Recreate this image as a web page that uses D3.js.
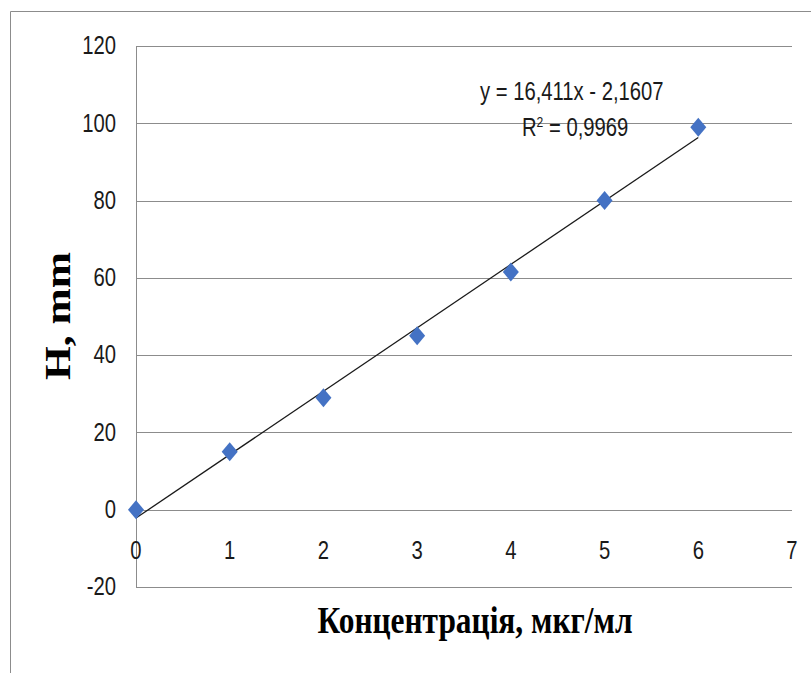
<!DOCTYPE html>
<html>
<head>
<meta charset="utf-8">
<script src="https://cdn.jsdelivr.net/npm/d3@7"></script>
<style>
  body { margin: 0; background: #fff; }
  svg { display: block; }
</style>
</head>
<body>
<div id="viz"></div>
<script>
// data
var concentration = [0, 1, 2, 3, 4, 5, 6];
var heightMm = [0, 15, 29, 45, 61.5, 80, 99];
var xTicks = [0, 1, 2, 3, 4, 5, 6, 7];
var yTicks = [-20, 0, 20, 40, 60, 80, 100, 120];
var equationText = "y = 16,411x - 2,1607";
var r2Text = ["R", "2", " = 0,9969"];
var xTitle = "Концентрація, мкг/мл";
var yTitle = "H, mm";

var width = 811, height = 673,
    margin = {top: 46, bottom: 86, left: 136, right: 19};

var svg = d3.select("#viz").append("svg")
    .attr("width", width)
    .attr("height", height);

var x = d3.scaleLinear().domain([0, 7]).range([margin.left, width - margin.right]),
    y = d3.scaleLinear().domain([-20, 120]).range([height - margin.bottom, margin.top]);

// no narrow font installed, so squeeze the regular sans horizontally
var tickFont = "'Liberation Sans', Arial, sans-serif",
    squeeze = 0.81;

function narrow(sel, px, py){
    sel.attr("transform", "translate(" + px + "," + py + ") scale(" + squeeze + ",1)")
        .style("font-family", tickFont)
        .style("font-size", "25px")
        .attr("fill", "#1a1a1a");
}

// chart border (open to the right and bottom like the cropped original)
svg.append("path")
    .attr("d", "M10.5,673 V11.5 H811")
    .attr("fill", "none")
    .attr("stroke", "#8c8c8c")
    .attr("stroke-width", 1);

// horizontal gridlines
svg.append("g")
    .attr("class", "grid")
  .selectAll("line")
  .data(yTicks)
  .enter().append("line")
    .attr("x1", x(0))
    .attr("x2", x(7))
    .attr("y1", function(d){ return Math.round(y(d)) + 0.5; })
    .attr("y2", function(d){ return Math.round(y(d)) + 0.5; })
    .attr("stroke", "#8c8c8c")
    .attr("stroke-width", 1);

// vertical axis line
svg.append("line")
    .attr("x1", Math.round(x(0)) + 0.5)
    .attr("x2", Math.round(x(0)) + 0.5)
    .attr("y1", y(120))
    .attr("y2", y(-20))
    .attr("stroke", "#8c8c8c")
    .attr("stroke-width", 1);

// y tick labels
svg.append("g")
  .selectAll("text")
  .data(yTicks)
  .enter().append("text")
    .each(function(d){ narrow(d3.select(this), 116, y(d)); })
    .attr("dy", "0.33em")
    .attr("text-anchor", "end")
    .text(function(d){ return d; });

// x tick labels (under the zero line)
svg.append("g")
  .selectAll("text")
  .data(xTicks)
  .enter().append("text")
    .each(function(d){ narrow(d3.select(this), x(d), y(0) + 49); })
    .attr("text-anchor", "middle")
    .text(function(d){ return d; });

// linear trendline from least squares
var mx = d3.mean(concentration),
    my = d3.mean(heightMm),
    sxy = d3.sum(concentration, function(c, i){ return (c - mx) * (heightMm[i] - my); }),
    sxx = d3.sum(concentration, function(c){ return (c - mx) * (c - mx); }),
    slope = sxy / sxx,
    intercept = my - slope * mx;

var xExtent = d3.extent(concentration);
svg.append("line")
    .attr("x1", x(xExtent[0]))
    .attr("y1", y(slope * xExtent[0] + intercept))
    .attr("x2", x(xExtent[1]))
    .attr("y2", y(slope * xExtent[1] + intercept))
    .attr("stroke", "#1a1a1a")
    .attr("stroke-width", 1.3);

// diamond markers
var dw = 8, dh = 9.5;
svg.append("g")
  .selectAll("path")
  .data(concentration)
  .enter().append("path")
    .attr("d", function(d, i){
        var cx = x(d), cy = y(heightMm[i]);
        return "M" + cx + "," + (cy - dh) + "L" + (cx + dw) + "," + cy +
               "L" + cx + "," + (cy + dh) + "L" + (cx - dw) + "," + cy + "Z";
    })
    .attr("fill", "#4472c4");

// trendline labels
svg.append("text")
    .call(narrow, 480, 100)
    .text(equationText);

var r2 = svg.append("text")
    .call(narrow, 522, 136);
r2.append("tspan").text(r2Text[0]);
r2.append("tspan").attr("dy", -9).style("font-size", "15px").text(r2Text[1]);
r2.append("tspan").attr("dy", 9).text(r2Text[2]);

// axis titles
svg.append("text")
    .attr("x", 475)
    .attr("y", 633)
    .attr("text-anchor", "middle")
    .attr("textLength", 315)
    .attr("lengthAdjust", "spacingAndGlyphs")
    .style("font-family", "'Liberation Serif', 'Times New Roman', serif")
    .style("font-weight", "bold")
    .style("font-size", "37px")
    .attr("fill", "#000")
    .text(xTitle);

svg.append("text")
    .attr("transform", "translate(70,316) rotate(-90)")
    .attr("text-anchor", "middle")
    .attr("textLength", 128)
    .attr("lengthAdjust", "spacingAndGlyphs")
    .style("font-family", "'Liberation Serif', 'Times New Roman', serif")
    .style("font-weight", "bold")
    .style("font-size", "35px")
    .attr("fill", "#000")
    .text(yTitle);
</script>
</body>
</html>
